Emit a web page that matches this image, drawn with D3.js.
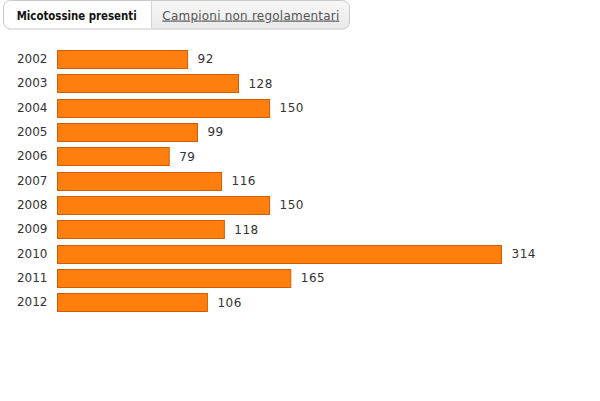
<!DOCTYPE html>
<html><head><meta charset="utf-8">
<script src="https://cdn.jsdelivr.net/npm/d3@7"></script>
<style>
html,body{margin:0;padding:0;background:#fff;}
svg{display:block;font-family:"DejaVu Sans",sans-serif;}
</style></head>
<body>
<svg id="c" width="600" height="401"></svg>
<script>
const years = ["2002","2003","2004","2005","2006","2007","2008","2009","2010","2011","2012"];
const values = [92,128,150,99,79,116,150,118,314,165,106];
const tabs = ["Micotossine presenti","Campioni non regolamentari"];

const svg = d3.select("#c");
const defs = svg.append("defs");
const g1 = defs.append("linearGradient").attr("id","tabg").attr("x1",0).attr("y1",0).attr("x2",0).attr("y2",1);
g1.append("stop").attr("offset","0").attr("stop-color","#f7f7f7");
g1.append("stop").attr("offset","1").attr("stop-color","#e9e9e9");
defs.append("clipPath").attr("id","tabclip").append("rect")
  .attr("x",3.5).attr("y",0.5).attr("width",346).attr("height",28.5).attr("rx",7);

// tabs
const tg = svg.append("g");
tg.append("rect").attr("x",152).attr("y",0.5).attr("width",198).attr("height",29)
  .attr("fill","url(#tabg)").attr("clip-path","url(#tabclip)");
tg.append("rect").attr("x",3.5).attr("y",0.5).attr("width",346).attr("height",28.5).attr("rx",7)
  .attr("fill","none").attr("stroke","#c8c8c8");
tg.append("line").attr("x1",151.5).attr("x2",151.5).attr("y1",1).attr("y2",28.5).attr("stroke","#d4d4d4");
tg.append("text").attr("x",16.7).attr("y",19.5)
  .attr("font-size",12).attr("font-weight","bold").attr("fill","#111")
  .attr("textLength",120).attr("lengthAdjust","spacingAndGlyphs").text(tabs[0]);
tg.append("text").attr("x",162.3).attr("y",19.5)
  .attr("font-size",12).attr("fill","#555").attr("text-decoration","underline")
  .attr("textLength",177).attr("lengthAdjust","spacing").text(tabs[1]);

// chart
const x = d3.scaleLinear().domain([0,314]).range([57.5,501.5]);
const y = d3.scaleBand().domain(years).range([47.1,314.7]).paddingInner(0.24).paddingOuter(0.12);

const g = svg.append("g");
g.selectAll("rect.bar").data(values).join("rect").attr("class","bar")
  .attr("x",x(0)).attr("y",(d,i)=>Math.round(y(years[i]))+0.5)
  .attr("width",d=>x(d)-x(0)).attr("height",Math.round(y.bandwidth()))
  .attr("fill","#ff7f0e").attr("stroke","#d35c00");

g.selectAll("text.val").data(values).join("text").attr("class","val")
  .attr("x",d=>x(d)+10).attr("y",(d,i)=>y(years[i])+y.bandwidth()/2)
  .attr("dy","0.35em").attr("font-size",12).attr("fill","#333")
  .attr("letter-spacing","0.5px").text(d=>d);

const ax = g.append("g").attr("transform",`translate(${x(0)},0)`)
  .call(d3.axisLeft(y).tickSize(0).tickPadding(10));
ax.select(".domain").remove();
ax.selectAll("text").attr("font-size",12).attr("fill","#333").attr("font-family","DejaVu Sans, sans-serif");
</script>
</body></html>
